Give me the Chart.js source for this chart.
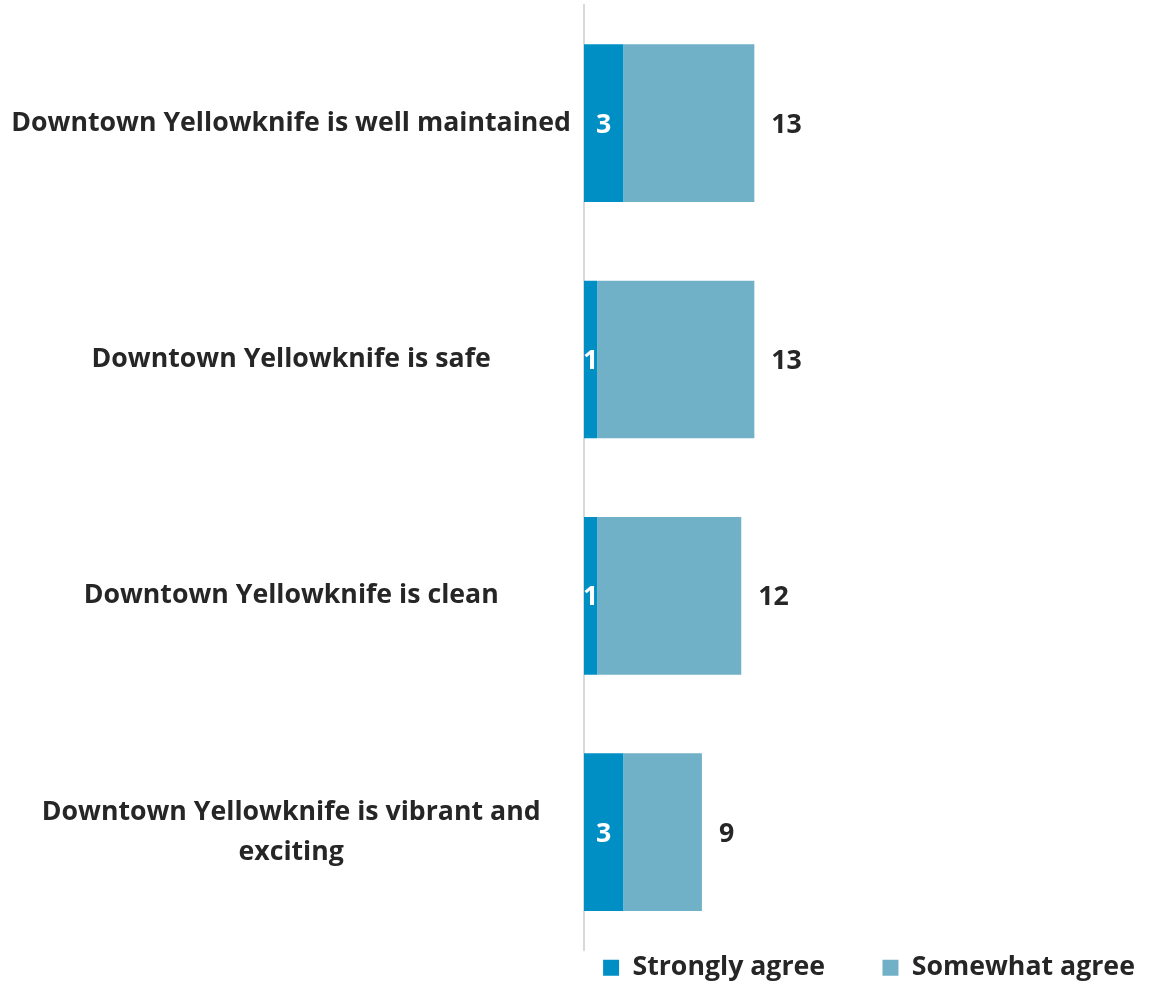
<!DOCTYPE html>
<html lang="en">
<head>
  <meta charset="UTF-8" />
  <title>Downtown Yellowknife</title>
  <script src="https://cdn.jsdelivr.net/npm/chart.js"></script>
  <style>
    html, body { margin: 0; padding: 0; background: #fff; }
    #wrap { width: 1154px; height: 983px; }
  </style>
</head>
<body>
  <div id="wrap"><canvas id="agreeChart"></canvas></div>
  <script>
    const categories = [
      "Downtown Yellowknife is well maintained",
      "Downtown Yellowknife is safe",
      "Downtown Yellowknife is clean",
      ["Downtown Yellowknife is vibrant and", "exciting"]
    ];
    const stronglyAgree = [3, 1, 1, 3];
    const somewhatAgree = [10, 12, 11, 6];

    const FONT = "'Open Sans', sans-serif";
    const SIZE = 26.7;

    // values inside the first segment, totals past the end of the bar
    const valueLabels = {
      id: "valueLabels",
      afterDatasetsDraw(chart) {
        const ctx = chart.ctx;
        const inner = chart.getDatasetMeta(0);
        const outer = chart.getDatasetMeta(1);
        ctx.save();
        ctx.font = "bold " + SIZE + "px " + FONT;
        ctx.textBaseline = "middle";
        inner.data.forEach((bar, i) => {
          ctx.fillStyle = "#ffffff";
          ctx.textAlign = "center";
          ctx.fillText(String(stronglyAgree[i]), (bar.x + bar.base) / 2, bar.y + 2);
        });
        outer.data.forEach((bar, i) => {
          ctx.fillStyle = "#262626";
          ctx.textAlign = "left";
          ctx.fillText(String(stronglyAgree[i] + somewhatAgree[i]), bar.x + 17, bar.y + 2);
        });
        ctx.restore();
      }
    };

    new Chart(document.getElementById("agreeChart"), {
      type: "bar",
      data: {
        labels: categories,
        datasets: [
          { label: "Strongly agree", data: stronglyAgree, backgroundColor: "#008fc5" },
          { label: "Somewhat agree", data: somewhatAgree, backgroundColor: "#71b1c8" }
        ]
      },
      options: {
        indexAxis: "y",
        responsive: true,
        maintainAspectRatio: false,
        animation: false,
        categoryPercentage: 0.667,
        barPercentage: 1,
        layout: { padding: { top: 5, right: 0, bottom: -8, left: 0 } },
        scales: {
          x: {
            stacked: true,
            min: 0,
            max: 43.5,
            display: false
          },
          y: {
            stacked: true,
            grid: { display: false },
            border: { display: true, color: "#d9d9d9", width: 2 },
            ticks: {
              color: "#262626",
              font: { family: FONT, size: SIZE, weight: "bold", lineHeight: 1.5 },
              crossAlign: "center",
              padding: 5
            },
            afterFit(axis) {
              axis.width = 584;
              // keep the plot flush with the top and legend
              axis.paddingTop = 0;
              axis.paddingBottom = 0;
            }
          }
        },
        plugins: {
          legend: {
            position: "bottom",
            fullSize: false,
            labels: {
              color: "#262626",
              font: { family: FONT, size: SIZE, weight: "bold" },
              boxWidth: 16,
              boxHeight: 16,
              padding: 4,
              generateLabels(chart) {
                const items = Chart.defaults.plugins.legend.labels.generateLabels(chart);
                // wider gap between the two entries
                items[0].text += "\u2003\u2003";
                return items;
              }
            }
          },
          tooltip: { enabled: false }
        }
      },
      plugins: [valueLabels]
    });
  </script>
</body>
</html>
